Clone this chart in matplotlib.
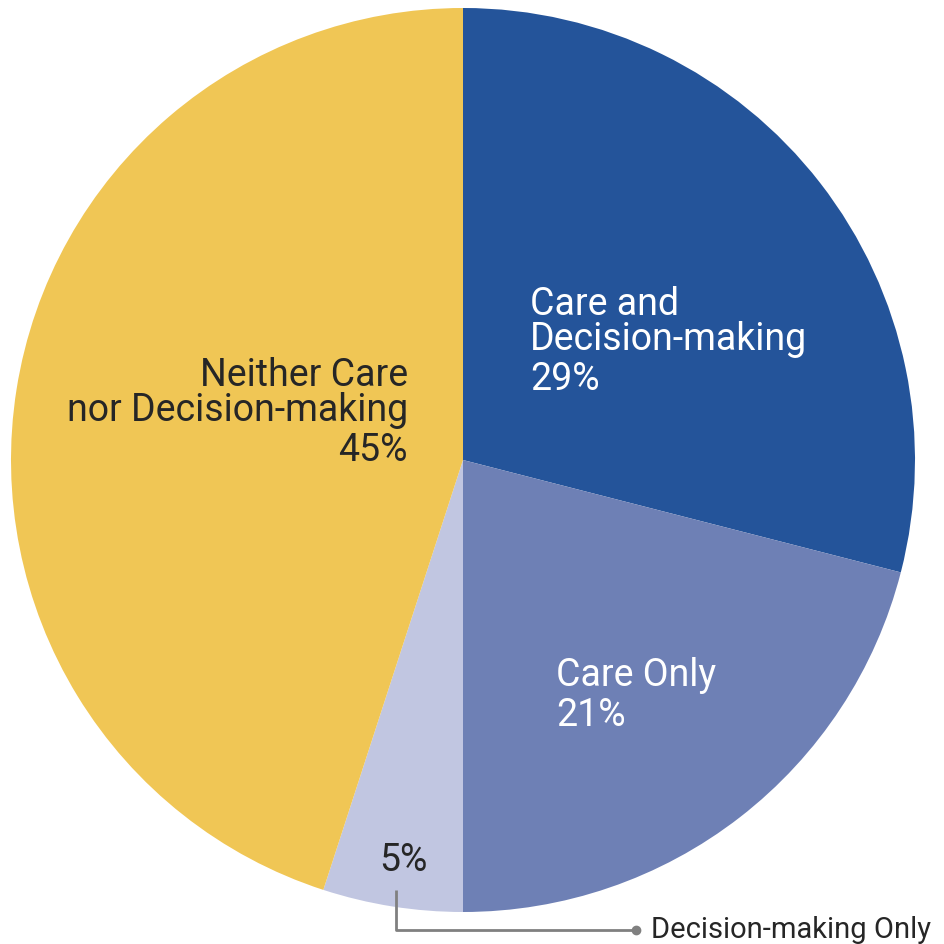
import matplotlib.pyplot as plt

# Data
labels = ["Care and\nDecision-making", "Care Only", "Decision-making Only", "Neither Care\nnor Decision-making"]
shares = [29, 21, 5, 45]
colors = ["#24549a", "#6e80b5", "#c1c6e1", "#f0c655"]

W = H = 944
fig = plt.figure(figsize=(9.44, 9.44), dpi=100)
ax = fig.add_axes([0, 0, 1, 1])

def Y(y):
    return H - y

ax.pie(shares, colors=colors, startangle=90, counterclock=False,
       center=(463, Y(460)), radius=452, frame=True,
       wedgeprops=dict(linewidth=0))
ax.set_xlim(0, W)
ax.set_ylim(0, H)
ax.set_aspect("equal")
ax.axis("off")

plt.rcParams["font.family"] = ["Roboto", "DejaVu Sans"]
fs = 27
dark = "#262626"

# Care and Decision-making
ax.text(530, Y(315), "Care and", color="white", fontsize=fs, va="baseline", ha="left")
ax.text(530, Y(350), "Decision-making", color="white", fontsize=fs, va="baseline", ha="left")
ax.text(530, Y(390), f"{shares[0]}%", color="white", fontsize=fs, va="baseline", ha="left")

# Care Only
ax.text(556, Y(686), "Care Only", color="white", fontsize=fs, va="baseline", ha="left")
ax.text(556, Y(726), f"{shares[1]}%", color="white", fontsize=fs, va="baseline", ha="left")

# Neither
ax.text(408, Y(386), "Neither Care", color=dark, fontsize=fs, va="baseline", ha="right")
ax.text(408, Y(421), "nor Decision-making", color=dark, fontsize=fs, va="baseline", ha="right")
ax.text(408, Y(461), f"{shares[3]}%", color=dark, fontsize=fs, va="baseline", ha="right")

# Decision-making only
ax.text(403, Y(871), f"{shares[2]}%", color=dark, fontsize=fs, va="baseline", ha="center")
ax.plot([396, 396, 636], [Y(890), Y(930), Y(930)], color="#808080", lw=2, solid_capstyle="butt")
ax.plot([636], [Y(930)], "o", color="#808080", ms=6)
ax.text(651, Y(930), labels[2], color=dark, fontsize=21, va="center", ha="left")

fig.savefig("out.png", dpi=100, facecolor="white")
